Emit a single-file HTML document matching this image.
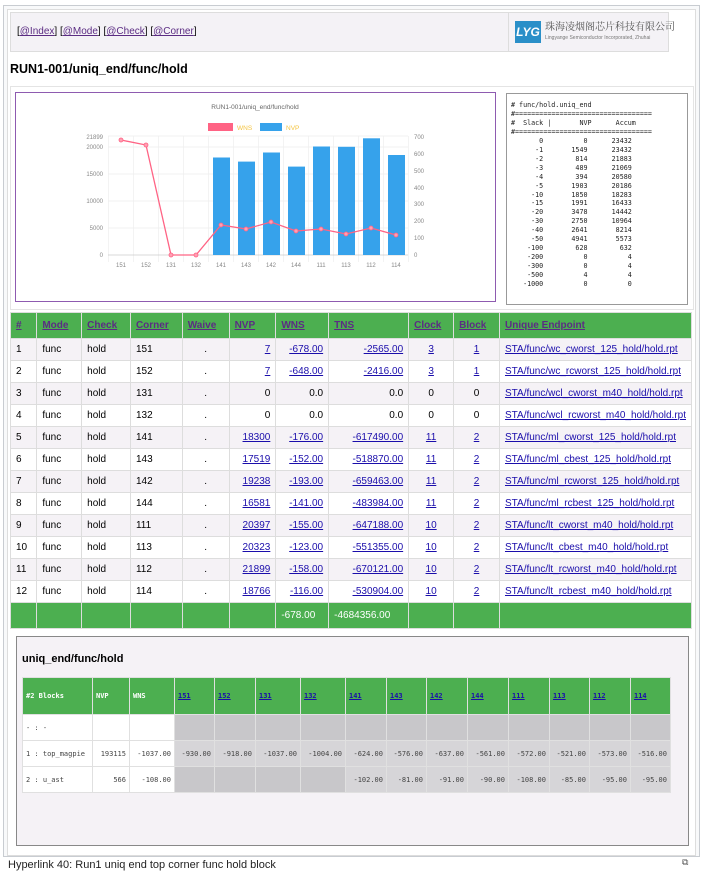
<!DOCTYPE html>
<html><head><meta charset="utf-8"><style>
body{margin:0;width:703px;height:883px;background:#fff;font-family:"Liberation Sans",sans-serif;position:relative;overflow:hidden}
.a{position:absolute}
a{color:#1a0dab;text-decoration:underline}
#outer{left:3px;top:5px;width:695px;height:850px;border:1px solid #c8ccd1;background:#f8f9fa}
#inner{left:7px;top:9px;width:687px;height:845px;background:#fff;border:1px solid #ddd}
#hdr{left:10px;top:12px;width:657px;height:38px;background:#f4f2f6;border:1px solid #ddd;font-size:10px}
table{border-collapse:collapse}
#mt{left:10px;top:312px;width:682px;font-size:10px}
#mt td,#mt th{border:1px solid #ddd;padding:0 5px;height:21px;text-align:left;font-weight:normal}
#mt th{background:#4caf50;height:25px;font-weight:bold}
#mt th a{color:#5b2c83}
#mt tr:nth-child(even) td{background:#f5f2f6}
#mt .r{text-align:right}
#mt .c{text-align:center}
#mt tr.tot td{background:#4caf50;color:#fff;height:25px}
#bt{left:22px;top:677px;width:648px;table-layout:fixed;font-family:"DejaVu Sans Mono","Liberation Mono",monospace;font-size:7px;color:#444}
#bt td{border:1px solid #e0e0e0;height:25px;padding:0 3px;white-space:nowrap;overflow:hidden}
#bt tr.h td{background:#4caf50;color:#fff;height:36px;font-weight:bold}
#bt tr.h td a{color:#1a0dab}
#bt .g{background:#c8c7ca}
#bt .l{background:#d6d5d8;text-align:right}
pre{margin:0}
</style></head><body>
<div class="a" id="outer"></div>
<div class="a" id="inner"></div>
<div class="a" id="hdr"><div class="a" style="left:6px;top:13px">[<a href="#" style="color:#5b2c83">@Index</a>] [<a href="#" style="color:#5b2c83">@Mode</a>] [<a href="#" style="color:#5b2c83">@Check</a>] [<a href="#" style="color:#5b2c83">@Corner</a>]</div>
<div class="a" style="left:497px;top:0;width:1px;height:38px;background:#ddd"></div>
<div class="a" style="left:504px;top:8px;width:26px;height:22px;background:#2a8fc8;color:#fff;font-weight:bold;font-style:italic;font-size:12px;line-height:22px;text-align:center">LYG</div>
<div class="a" style="left:534px;top:5px;font-family:'Noto Serif CJK SC',serif;font-size:10px;color:#555;white-space:nowrap">珠海凌烟阁芯片科技有限公司</div>
<div class="a" style="left:534px;top:22px;font-size:5px;color:#777;white-space:nowrap">Lingyange Semiconductor Incorporated, Zhuhai</div>
</div>
<div class="a" style="left:10px;top:62px;font-size:12.5px;font-weight:bold">RUN1-001/uniq_end/func/hold</div>
<div class="a" style="left:10px;top:86px;width:682px;height:222px;border:1px solid #e4e4e4"></div>
<div class="a" style="left:15px;top:92px;width:479px;height:208px;border:1px solid #8e5bb0;background:#fff"></div>
<svg class="a" style="left:0;top:0" width="703" height="310" font-family="Liberation Sans,sans-serif">
<text x="255" y="109" font-size="6.5" fill="#666" text-anchor="middle">RUN1-001/uniq_end/func/hold</text>
<rect x="208" y="123" width="25" height="8" fill="#ff6384"/><text x="237" y="130" font-size="6.5" fill="#f5c542">WNS</text>
<rect x="260" y="123" width="22" height="8" fill="#36a2eb"/><text x="286" y="130" font-size="6.5" fill="#f5c542">NVP</text>
<g stroke="#eee" stroke-width="0.7">
<line x1="108" y1="147" x2="408" y2="147"/><line x1="108" y1="174" x2="408" y2="174"/><line x1="108" y1="201" x2="408" y2="201"/><line x1="108" y1="228" x2="408" y2="228"/><line x1="108" y1="136" x2="408" y2="136"/>
<line x1="108.5" y1="136" x2="108.5" y2="262"/><line x1="133.5" y1="136" x2="133.5" y2="262"/><line x1="158.5" y1="136" x2="158.5" y2="262"/><line x1="183.5" y1="136" x2="183.5" y2="262"/><line x1="208.5" y1="136" x2="208.5" y2="262"/><line x1="233.5" y1="136" x2="233.5" y2="262"/><line x1="258.5" y1="136" x2="258.5" y2="262"/><line x1="283.5" y1="136" x2="283.5" y2="262"/><line x1="308.5" y1="136" x2="308.5" y2="262"/><line x1="333.5" y1="136" x2="333.5" y2="262"/><line x1="358.5" y1="136" x2="358.5" y2="262"/><line x1="383.5" y1="136" x2="383.5" y2="262"/><line x1="408.5" y1="136" x2="408.5" y2="262"/>
</g>
<line x1="108" y1="255" x2="408" y2="255" stroke="#ccc" stroke-width="0.8"/>
<g font-size="6" fill="#888" text-anchor="end">
<text x="103" y="139">21899</text><text x="103" y="149">20000</text><text x="103" y="176">15000</text><text x="103" y="203">10000</text><text x="103" y="230">5000</text><text x="103" y="257">0</text></g>
<g font-size="6" fill="#888">
<text x="414" y="139">700</text><text x="414" y="156">600</text><text x="414" y="173">500</text><text x="414" y="190">400</text><text x="414" y="206">300</text><text x="414" y="223">200</text><text x="414" y="240">100</text><text x="414" y="257">0</text></g>
<g font-size="6" fill="#888" text-anchor="middle">
<text x="121" y="267">151</text><text x="146" y="267">152</text><text x="171" y="267">131</text><text x="196" y="267">132</text><text x="221" y="267">141</text><text x="246" y="267">143</text><text x="271" y="267">142</text><text x="296" y="267">144</text><text x="321" y="267">111</text><text x="346" y="267">113</text><text x="371" y="267">112</text><text x="396" y="267">114</text></g>
<g fill="#36a2eb">
<rect x="213" y="157.5" width="17" height="97.5"/><rect x="238" y="161.6" width="17" height="93.4"/><rect x="263" y="152.5" width="17" height="102.5"/><rect x="288" y="166.6" width="17" height="88.4"/><rect x="313" y="146.5" width="17" height="108.5"/><rect x="338" y="146.8" width="17" height="108.2"/><rect x="363" y="138.3" width="17" height="116.7"/><rect x="388" y="155" width="17" height="100"/></g>
<polyline fill="none" stroke="#ff6384" stroke-width="1.3" points="121,140 146,145 171,255 196,255 221,225 246,229 271,222 296,231 321,229 346,234 371,228 396,235"/>
<g fill="#ff9fb3" stroke="#ff6384" stroke-width="0.8">
<circle cx="121" cy="140" r="2"/><circle cx="146" cy="145" r="2"/><circle cx="171" cy="255" r="2"/><circle cx="196" cy="255" r="2"/><circle cx="221" cy="225" r="2"/><circle cx="246" cy="229" r="2"/><circle cx="271" cy="222" r="2"/><circle cx="296" cy="231" r="2"/><circle cx="321" cy="229" r="2"/><circle cx="346" cy="234" r="2"/><circle cx="371" cy="228" r="2"/><circle cx="396" cy="235" r="2"/></g>
</svg>
<div class="a" style="left:506px;top:93px;width:180px;height:210px;border:1px solid #999;background:#fff"></div>
<pre class="a" style="left:511px;top:101px;font-family:'DejaVu Sans Mono',monospace;font-size:6.7px;line-height:8.95px;color:#222"># func/hold.uniq_end
#==================================
#  Slack |       NVP      Accum
#==================================
       0          0      23432
      -1       1549      23432
      -2        814      21883
      -3        489      21069
      -4        394      20580
      -5       1903      20186
     -10       1850      18283
     -15       1991      16433
     -20       3478      14442
     -30       2750      10964
     -40       2641       8214
     -50       4941       5573
    -100        628        632
    -200          0          4
    -300          0          4
    -500          4          4
   -1000          0          0</pre>
<table class="a" id="mt">
<tr><th style="width:16px"><a href="#">#</a></th><th style="width:35px"><a href="#">Mode</a></th><th style="width:39px"><a href="#">Check</a></th><th style="width:42px"><a href="#">Corner</a></th><th style="width:37px"><a href="#">Waive</a></th><th style="width:37px"><a href="#">NVP</a></th><th style="width:43px"><a href="#">WNS</a></th><th style="width:71px"><a href="#">TNS</a></th><th style="width:35px"><a href="#">Clock</a></th><th style="width:36px"><a href="#">Block</a></th><th><a href="#">Unique Endpoint</a></th></tr>
<tr><td>1</td><td>func</td><td>hold</td><td>151</td><td class="c">.</td><td class="r"><a href="#">7</a></td><td class="r"><a href="#">-678.00</a></td><td class="r"><a href="#">-2565.00</a></td><td class="c"><a href="#">3</a></td><td class="c"><a href="#">1</a></td><td><a href="#">STA/func/wc_cworst_125_hold/hold.rpt</a></td></tr>
<tr><td>2</td><td>func</td><td>hold</td><td>152</td><td class="c">.</td><td class="r"><a href="#">7</a></td><td class="r"><a href="#">-648.00</a></td><td class="r"><a href="#">-2416.00</a></td><td class="c"><a href="#">3</a></td><td class="c"><a href="#">1</a></td><td><a href="#">STA/func/wc_rcworst_125_hold/hold.rpt</a></td></tr>
<tr><td>3</td><td>func</td><td>hold</td><td>131</td><td class="c">.</td><td class="r">0</td><td class="r">0.0</td><td class="r">0.0</td><td class="c">0</td><td class="c">0</td><td><a href="#">STA/func/wcl_cworst_m40_hold/hold.rpt</a></td></tr>
<tr><td>4</td><td>func</td><td>hold</td><td>132</td><td class="c">.</td><td class="r">0</td><td class="r">0.0</td><td class="r">0.0</td><td class="c">0</td><td class="c">0</td><td><a href="#">STA/func/wcl_rcworst_m40_hold/hold.rpt</a></td></tr>
<tr><td>5</td><td>func</td><td>hold</td><td>141</td><td class="c">.</td><td class="r"><a href="#">18300</a></td><td class="r"><a href="#">-176.00</a></td><td class="r"><a href="#">-617490.00</a></td><td class="c"><a href="#">11</a></td><td class="c"><a href="#">2</a></td><td><a href="#">STA/func/ml_cworst_125_hold/hold.rpt</a></td></tr>
<tr><td>6</td><td>func</td><td>hold</td><td>143</td><td class="c">.</td><td class="r"><a href="#">17519</a></td><td class="r"><a href="#">-152.00</a></td><td class="r"><a href="#">-518870.00</a></td><td class="c"><a href="#">11</a></td><td class="c"><a href="#">2</a></td><td><a href="#">STA/func/ml_cbest_125_hold/hold.rpt</a></td></tr>
<tr><td>7</td><td>func</td><td>hold</td><td>142</td><td class="c">.</td><td class="r"><a href="#">19238</a></td><td class="r"><a href="#">-193.00</a></td><td class="r"><a href="#">-659463.00</a></td><td class="c"><a href="#">11</a></td><td class="c"><a href="#">2</a></td><td><a href="#">STA/func/ml_rcworst_125_hold/hold.rpt</a></td></tr>
<tr><td>8</td><td>func</td><td>hold</td><td>144</td><td class="c">.</td><td class="r"><a href="#">16581</a></td><td class="r"><a href="#">-141.00</a></td><td class="r"><a href="#">-483984.00</a></td><td class="c"><a href="#">11</a></td><td class="c"><a href="#">2</a></td><td><a href="#">STA/func/ml_rcbest_125_hold/hold.rpt</a></td></tr>
<tr><td>9</td><td>func</td><td>hold</td><td>111</td><td class="c">.</td><td class="r"><a href="#">20397</a></td><td class="r"><a href="#">-155.00</a></td><td class="r"><a href="#">-647188.00</a></td><td class="c"><a href="#">10</a></td><td class="c"><a href="#">2</a></td><td><a href="#">STA/func/lt_cworst_m40_hold/hold.rpt</a></td></tr>
<tr><td>10</td><td>func</td><td>hold</td><td>113</td><td class="c">.</td><td class="r"><a href="#">20323</a></td><td class="r"><a href="#">-123.00</a></td><td class="r"><a href="#">-551355.00</a></td><td class="c"><a href="#">10</a></td><td class="c"><a href="#">2</a></td><td><a href="#">STA/func/lt_cbest_m40_hold/hold.rpt</a></td></tr>
<tr><td>11</td><td>func</td><td>hold</td><td>112</td><td class="c">.</td><td class="r"><a href="#">21899</a></td><td class="r"><a href="#">-158.00</a></td><td class="r"><a href="#">-670121.00</a></td><td class="c"><a href="#">10</a></td><td class="c"><a href="#">2</a></td><td><a href="#">STA/func/lt_rcworst_m40_hold/hold.rpt</a></td></tr>
<tr><td>12</td><td>func</td><td>hold</td><td>114</td><td class="c">.</td><td class="r"><a href="#">18766</a></td><td class="r"><a href="#">-116.00</a></td><td class="r"><a href="#">-530904.00</a></td><td class="c"><a href="#">10</a></td><td class="c"><a href="#">2</a></td><td><a href="#">STA/func/lt_rcbest_m40_hold/hold.rpt</a></td></tr>
<tr class="tot"><td></td><td></td><td></td><td></td><td></td><td></td><td>-678.00</td><td>-4684356.00</td><td></td><td></td><td></td></tr>
</table>
<div class="a" style="left:16px;top:636px;width:671px;height:208px;border:1px solid #888;background:#f5f2f6"></div>
<div class="a" style="left:22px;top:653px;font-size:11px;font-weight:bold">uniq_end/func/hold</div>
<table class="a" id="bt">
<colgroup><col style="width:70px"><col style="width:37px"><col style="width:45px"><col style="width:40px"><col style="width:41px"><col style="width:45px"><col style="width:45px"><col style="width:41px"><col style="width:40px"><col style="width:41px"><col style="width:41px"><col style="width:41px"><col style="width:40px"><col style="width:41px"><col style="width:40px"></colgroup>
<tr class="h"><td>#2 Blocks</td><td>NVP</td><td>WNS</td><td><a href="#">151</a></td><td><a href="#">152</a></td><td><a href="#">131</a></td><td><a href="#">132</a></td><td><a href="#">141</a></td><td><a href="#">143</a></td><td><a href="#">142</a></td><td><a href="#">144</a></td><td><a href="#">111</a></td><td><a href="#">113</a></td><td><a href="#">112</a></td><td><a href="#">114</a></td></tr>
<tr><td style="background:#fff">- : -</td><td style="background:#fff"></td><td style="background:#fff"></td><td class="g"></td><td class="g"></td><td class="g"></td><td class="g"></td><td class="g"></td><td class="g"></td><td class="g"></td><td class="g"></td><td class="g"></td><td class="g"></td><td class="g"></td><td class="g"></td></tr>
<tr><td style="background:#fff">1 : top_magpie</td><td style="background:#fff;text-align:right">193115</td><td style="background:#fff;text-align:right">-1037.00</td><td class="l">-930.00</td><td class="l">-918.00</td><td class="l">-1037.00</td><td class="l">-1004.00</td><td class="l">-624.00</td><td class="l">-576.00</td><td class="l">-637.00</td><td class="l">-561.00</td><td class="l">-572.00</td><td class="l">-521.00</td><td class="l">-573.00</td><td class="l">-516.00</td></tr>
<tr><td style="background:#fff">2 : u_ast</td><td style="background:#fff;text-align:right">566</td><td style="background:#fff;text-align:right">-108.00</td><td class="g"></td><td class="g"></td><td class="g"></td><td class="g"></td><td class="l">-102.00</td><td class="l">-81.00</td><td class="l">-91.00</td><td class="l">-90.00</td><td class="l">-108.00</td><td class="l">-85.00</td><td class="l">-95.00</td><td class="l">-95.00</td></tr>
</table>
<div class="a" style="left:8px;top:859px;font-size:11px;color:#222">Hyperlink 40: Run1 uniq end top corner func hold block</div>
<div class="a" style="left:682px;top:857px;font-size:9px;color:#555">⧉</div>
</body></html>
